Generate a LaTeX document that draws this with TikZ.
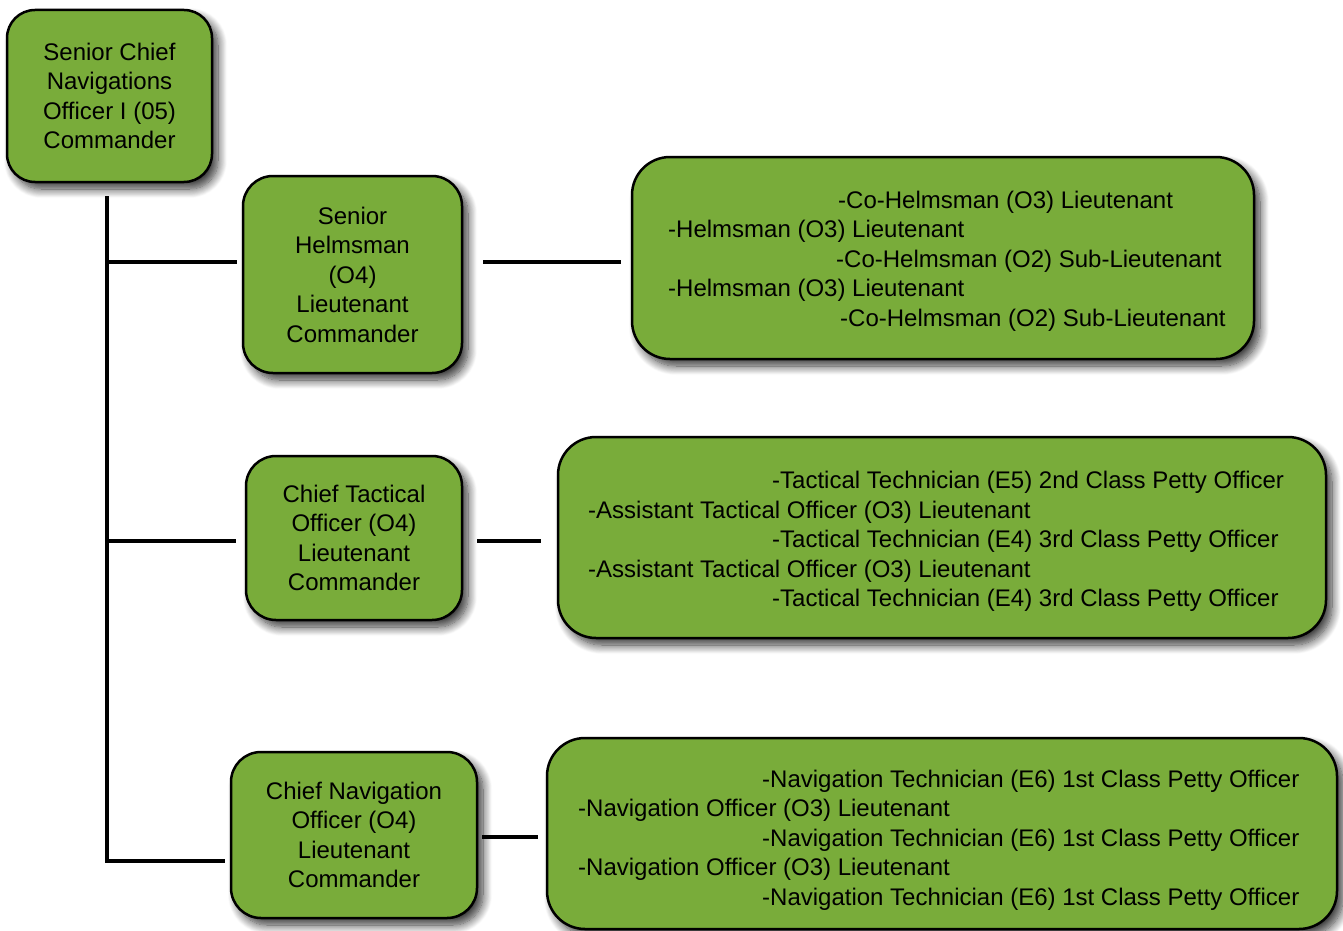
\documentclass[tikz,border=0pt]{standalone}
\usepackage{fontspec}
\setmainfont{Liberation Sans}
\usetikzlibrary{shadows.blur}
\definecolor{boxgreen}{RGB}{121,172,58}
\newcommand{\entry}[2][0pt]{\hspace*{#1}\mbox{#2}}
\tikzset{
  boxshape/.style={draw=black, line width=2.5pt, fill=boxgreen, rounded corners=30pt,
    inner sep=0pt,
    blur shadow={shadow xshift=6pt, shadow yshift=-7pt, shadow blur radius=9pt,
      shadow blur steps=12, shadow opacity=80}},
  rankbox/.style={boxshape, align=center, font=\fontsize{24}{29.5}\selectfont},
  listbox/.style={boxshape, rounded corners=38pt},
  listtext/.style={anchor=west, inner sep=0pt, align=left,
    font=\fontsize{24}{29.5}\selectfont},
  conn/.style={draw=black, line width=4pt}
}
\begin{document}
\begin{tikzpicture}[x=1pt, y=-1pt]
\useasboundingbox (0,0) rectangle (1343,931);

% commanding officer
\node[rankbox, rounded corners=28pt, minimum width=205pt, minimum height=172pt] (A) at (109.5,96)
  {Senior Chief\\Navigations\\Officer I (05)\\Commander};

% department heads
\node[rankbox, minimum width=219pt, minimum height=197pt] (B1) at (352.5,274.5)
  {Senior\\Helmsman\\(O4)\\Lieutenant\\Commander};
\node[rankbox, minimum width=216pt, minimum height=164pt] (B2) at (354,538)
  {Chief Tactical\\Officer (O4)\\Lieutenant\\Commander};
\node[rankbox, minimum width=246pt, minimum height=166pt] (B3) at (354,835)
  {Chief Navigation\\Officer (O4)\\Lieutenant\\Commander};

% staff list frames
\node[listbox, minimum width=622pt, minimum height=202pt] (C1) at (943,258) {};
\node[listbox, minimum width=768pt, minimum height=201pt] (C2) at (942,537.5) {};
\node[listbox, minimum width=790pt, minimum height=191pt] (C3) at (942,833.5) {};

% staff list entries
\node[listtext] (C1t) at (668,261)
  {\entry[170pt]{-Co-Helmsman (O3) Lieutenant}\\
   \entry{-Helmsman (O3) Lieutenant}\\
   \entry[168pt]{-Co-Helmsman (O2) Sub-Lieutenant}\\
   \entry{-Helmsman (O3) Lieutenant}\\
   \entry[172pt]{-Co-Helmsman (O2) Sub-Lieutenant}};
\node[listtext] (C2t) at (588,541.5)
  {\entry[184pt]{-Tactical Technician (E5) 2nd Class Petty Officer}\\
   \entry{-Assistant Tactical Officer (O3) Lieutenant}\\
   \entry[184pt]{-Tactical Technician (E4) 3rd Class Petty Officer}\\
   \entry{-Assistant Tactical Officer (O3) Lieutenant}\\
   \entry[184pt]{-Tactical Technician (E4) 3rd Class Petty Officer}};
\node[listtext] (C3t) at (578,840)
  {\entry[184pt]{-Navigation Technician (E6) 1st Class Petty Officer}\\
   \entry{-Navigation Officer (O3) Lieutenant}\\
   \entry[184pt]{-Navigation Technician (E6) 1st Class Petty Officer}\\
   \entry{-Navigation Officer (O3) Lieutenant}\\
   \entry[184pt]{-Navigation Technician (E6) 1st Class Petty Officer}};

% trunk line and junctions
\coordinate (top) at (107,196);
\coordinate (j1) at (107,262);
\coordinate (j2) at (107,541);
\coordinate (j3) at (107,861);

\draw[conn, shorten >=5pt] (top) |- (B3.west |- j3);
\draw[conn, shorten >=5pt] (j1) -- (B1.west |- j1);
\draw[conn, shorten >=9pt] (j2) -- (B2.west |- j2);

% links to the staff lists
\draw[conn, shorten <=20pt, shorten >=10pt] (B1.east |- j1) -- (C1.west |- j1);
\draw[conn, shorten <=14pt, shorten >=16pt] (B2.east |- j2) -- (C2.west |- j2);
\coordinate (k3) at (354,837);
\draw[conn, shorten <=4pt, shorten >=8pt] (B3.east |- k3) -- (C3.west |- k3);
\end{tikzpicture}
\end{document}
